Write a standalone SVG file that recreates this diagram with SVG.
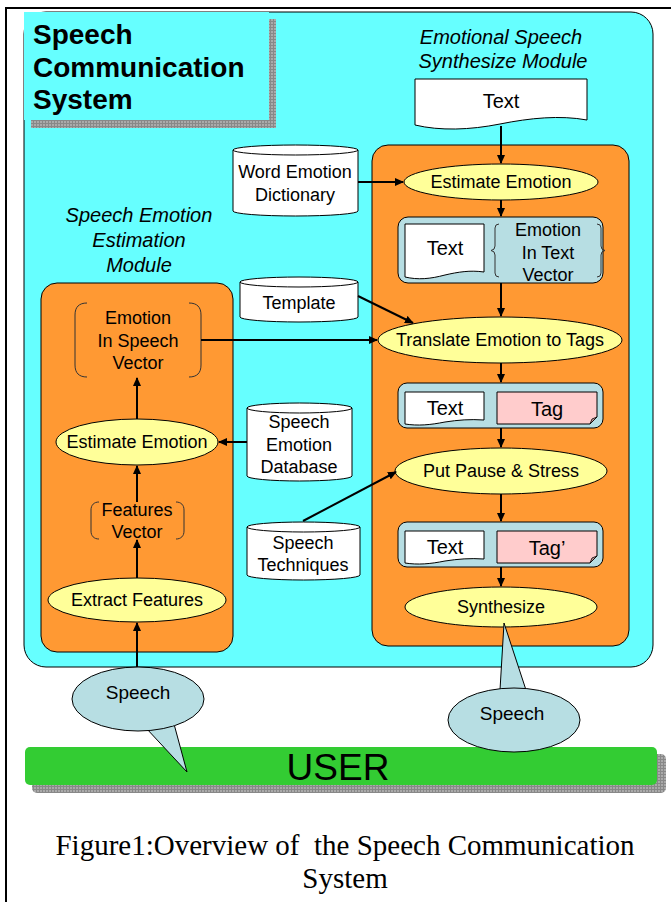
<svg xmlns="http://www.w3.org/2000/svg" width="671" height="902" viewBox="0 0 671 902">
<style>
text{font-family:"Liberation Sans",Arial,sans-serif;fill:#000}
.n{font-size:18px;text-anchor:middle}
.sp{font-size:19px;text-anchor:middle}
.doc{font-size:20px;text-anchor:middle}
.it{font-size:20px;font-style:italic;text-anchor:middle}
.ttl{font-size:28px;font-weight:bold}
.ell{fill:#FFFF99;stroke:#000;stroke-width:1}
.org{fill:#FF9933;stroke:#000;stroke-width:1}
.blu{fill:#B7DEE3;stroke:#000;stroke-width:1}
.wht{fill:#fff;stroke:#000;stroke-width:1}
.pnk{fill:#FFCCCC;stroke:#000;stroke-width:1}
.brk{fill:none;stroke:#333;stroke-width:1}
.cn{fill:none;stroke:#000;stroke-width:2}
.bub{fill:#B7DEE3;stroke:#000;stroke-width:1}
</style>
<defs>
<marker id="ah" markerWidth="9" markerHeight="8" refX="8" refY="4" orient="auto" markerUnits="userSpaceOnUse">
<path d="M0,0 L9,4 L0,8 z" fill="#000"/>
</marker>
<pattern id="hatch" width="3" height="3" patternUnits="userSpaceOnUse">
<rect width="3" height="3" fill="#aaaaaa"/>
<path d="M0,0.5 H3 M0.5,0 V3" stroke="#888" stroke-width="1"/>
</pattern>
</defs>
<rect x="0" y="0" width="671" height="902" fill="#fff"/>
<path d="M6,902 V8 H671" fill="none" stroke="#000" stroke-width="2"/>

<g id="main">
<rect x="24" y="12" width="629" height="655" rx="22" fill="#66FFFF" stroke="#000" stroke-width="1"/>
</g>
<g id="title">
<rect x="31" y="19" width="245" height="109" fill="url(#hatch)"/>
<rect x="24" y="12" width="245" height="108" fill="#66FFFF"/>
<text class="ttl" x="33" y="44">Speech</text>
<text class="ttl" x="33" y="77">Communication</text>
<text class="ttl" x="33" y="109">System</text>
</g>

<g id="synth-label">
<text class="it" x="501" y="44">Emotional Speech</text>
<text class="it" x="503" y="68">Synthesize Module</text>
</g>
<g id="est-label">
<text class="it" x="139" y="222">Speech Emotion</text>
<text class="it" x="139" y="247">Estimation</text>
<text class="it" x="139" y="272">Module</text>
</g>

<g id="orange-right"><rect class="org" x="372" y="145" width="257" height="501" rx="16"/></g>
<g id="orange-left"><rect class="org" x="41" y="283" width="192" height="369" rx="16"/></g>

<g id="text-doc">
<path class="wht" d="M415,79 H587 V120 C560,115 530,118 500,124 C470,130 440,131 415,125 Z"/>
<text class="doc" x="501" y="108">Text</text>
</g>

<g id="word-dict">
<path class="wht" d="M233,150 A62.5,5 0 0 1 358,150 V211 A62.5,5 0 0 1 233,211 Z"/>
<path d="M233,150 A62.5,5 0 0 0 358,150" fill="none" stroke="#000"/>
<text class="n" x="295" y="178">Word Emotion</text>
<text class="n" x="295" y="201">Dictionary</text>
</g>

<g id="estimate-r">
<ellipse class="ell" cx="501" cy="182" rx="97" ry="18"/>
<text class="n" x="501" y="188">Estimate Emotion</text>
</g>

<g id="box0">
<rect class="blu" x="398" y="217" width="205" height="66" rx="10"/>
<path class="wht" d="M405,224 H484 V272 C470,270 458,272 445,275 C430,279 418,280 405,277 Z"/>
<text class="doc" x="445" y="255">Text</text>
<path class="brk" d="M499,224 Q495,224 495,228 V246 Q495,250 491,250.5 Q495,251 495,255 V273 Q495,277 499,277"/>
<path class="brk" d="M597,224 Q601,224 601,228 V246 Q601,250 605,250.5 Q601,251 601,255 V273 Q601,277 597,277"/>
<text class="n" x="548" y="236">Emotion</text>
<text class="n" x="548" y="259">In Text</text>
<text class="n" x="548" y="281">Vector</text>
</g>

<g id="template">
<path class="wht" d="M240,282 A59,5 0 0 1 358,282 V317 A59,5 0 0 1 240,317 Z"/>
<path d="M240,282 A59,5 0 0 0 358,282" fill="none" stroke="#000"/>
<text class="n" x="299" y="309">Template</text>
</g>

<g id="translate">
<ellipse class="ell" cx="500" cy="340" rx="122" ry="23"/>
<text class="n" x="500" y="346">Translate Emotion to Tags</text>
</g>

<g id="box1">
<rect class="blu" x="398" y="383" width="205" height="45" rx="9"/>
<path class="wht" d="M405,392 H484 V420 C470,419 458,420 445,422 C430,425 418,426 405,424 Z"/>
<text class="doc" x="445" y="415">Text</text>
<path class="pnk" d="M497,392 H597 V417 L590,424 H497 Z"/>
<path d="M590,424 L592,419 L597,417 Z" fill="#CC9999" stroke="#000" stroke-width="0.8"/>
<text class="doc" x="547" y="416">Tag</text>
</g>

<g id="pause">
<ellipse class="ell" cx="501" cy="471" rx="106" ry="23"/>
<text class="n" x="501" y="477">Put Pause &amp; Stress</text>
</g>

<g id="box2">
<rect class="blu" x="398" y="522" width="205" height="45" rx="9"/>
<path class="wht" d="M405,531 H484 V559 C470,558 458,559 445,561 C430,564 418,565 405,563 Z"/>
<text class="doc" x="445" y="554">Text</text>
<path class="pnk" d="M497,531 H597 V556 L590,563 H497 Z"/>
<path d="M590,563 L592,558 L597,556 Z" fill="#CC9999" stroke="#000" stroke-width="0.8"/>
<text class="doc" x="547" y="555">Tag’</text>
</g>

<g id="synthesize">
<ellipse class="ell" cx="501" cy="607" rx="96" ry="20"/>
<text class="n" x="501" y="613">Synthesize</text>
</g>

<g id="emo-speech-vec">
<path class="brk" d="M87,303 C79,303 75,307 75,315 V365 C75,373 79,377 87,377"/>
<path class="brk" d="M189,303 C197,303 201,307 201,315 V365 C201,373 197,377 189,377"/>
<text class="n" x="138" y="324">Emotion</text>
<text class="n" x="138" y="347">In Speech</text>
<text class="n" x="138" y="369">Vector</text>
</g>

<g id="estimate-l">
<ellipse class="ell" cx="137" cy="442" rx="81" ry="23"/>
<text class="n" x="137" y="448">Estimate Emotion</text>
</g>

<g id="db">
<path class="wht" d="M247,408 A52.5,5 0 0 1 352,408 V476 A52.5,5 0 0 1 247,476 Z"/>
<path d="M247,408 A52.5,5 0 0 0 352,408" fill="none" stroke="#000"/>
<text class="n" x="299" y="428">Speech</text>
<text class="n" x="299" y="451">Emotion</text>
<text class="n" x="299" y="473">Database</text>
</g>

<g id="features-vec">
<path class="brk" d="M99,502 C94,502 91,505 91,510 V531 C91,536 94,539 99,539"/>
<path class="brk" d="M176,502 C181,502 184,505 184,510 V531 C184,536 181,539 176,539"/>
<text class="n" x="137" y="516">Features</text>
<text class="n" x="137" y="538">Vector</text>
</g>

<g id="techniques">
<path class="wht" d="M247,527 A56.5,5 0 0 1 360,527 V575 A56.5,5 0 0 1 247,575 Z"/>
<path d="M247,527 A56.5,5 0 0 0 360,527" fill="none" stroke="#000"/>
<text class="n" x="303" y="549">Speech</text>
<text class="n" x="303" y="571">Techniques</text>
</g>

<g id="extract">
<ellipse class="ell" cx="137" cy="600" rx="89" ry="22"/>
<text class="n" x="137" y="606">Extract Features</text>
</g>

<g id="user">
<rect x="32" y="754" width="634" height="39" rx="5" fill="url(#hatch)"/>
<rect x="25" y="747" width="632" height="38" rx="5" fill="#33CC33"/>
<text x="338" y="780" font-size="37" text-anchor="middle">USER</text>
</g>

<g id="speech-out">
<path class="bub" d="M504,623 L500,690 L526,690 Z"/>
<ellipse class="bub" cx="514" cy="720" rx="66" ry="32"/>
<path d="M501,691 L525,691" stroke="#B7DEE3" stroke-width="3"/>
<text class="sp" x="512" y="720">Speech</text>
</g>

<g id="speech-in">
<path class="bub" d="M146,728 L187,772 L174,724 Z"/>
<ellipse class="bub" cx="138" cy="699" rx="66" ry="32"/>
<path d="M148,727 L173,724" stroke="#B7DEE3" stroke-width="3"/>
<text class="sp" x="138" y="699">Speech</text>
</g>

<g id="connectors">
<line class="cn" x1="501" y1="126" x2="501" y2="163" marker-end="url(#ah)"/>
<line class="cn" x1="358" y1="182" x2="403" y2="182" marker-end="url(#ah)"/>
<line class="cn" x1="501" y1="200" x2="501" y2="216" marker-end="url(#ah)"/>
<line class="cn" x1="501" y1="283" x2="501" y2="316" marker-end="url(#ah)"/>
<line class="cn" x1="358" y1="296" x2="413" y2="323" marker-end="url(#ah)"/>
<line class="cn" x1="201" y1="340" x2="377" y2="340" marker-end="url(#ah)"/>
<line class="cn" x1="501" y1="363" x2="501" y2="382" marker-end="url(#ah)"/>
<line class="cn" x1="501" y1="428" x2="501" y2="447" marker-end="url(#ah)"/>
<line class="cn" x1="303" y1="521" x2="396" y2="472" marker-end="url(#ah)"/>
<line class="cn" x1="501" y1="494" x2="501" y2="521" marker-end="url(#ah)"/>
<line class="cn" x1="501" y1="567" x2="501" y2="586" marker-end="url(#ah)"/>
<line class="cn" x1="247" y1="442" x2="219" y2="442" marker-end="url(#ah)"/>
<line class="cn" x1="137" y1="419" x2="137" y2="378" marker-end="url(#ah)"/>
<line class="cn" x1="137" y1="502" x2="137" y2="466" marker-end="url(#ah)"/>
<line class="cn" x1="137" y1="578" x2="137" y2="540" marker-end="url(#ah)"/>
<line class="cn" x1="137" y1="667" x2="137" y2="623" marker-end="url(#ah)"/>
</g>

<g id="caption">
<text x="345" y="855" font-size="29" text-anchor="middle" xml:space="preserve" style="font-family:'Liberation Serif',serif">Figure1:Overview of  the Speech Communication</text>
<text x="345" y="888" font-size="29" text-anchor="middle" style="font-family:'Liberation Serif',serif">System</text>
</g>
</svg>
